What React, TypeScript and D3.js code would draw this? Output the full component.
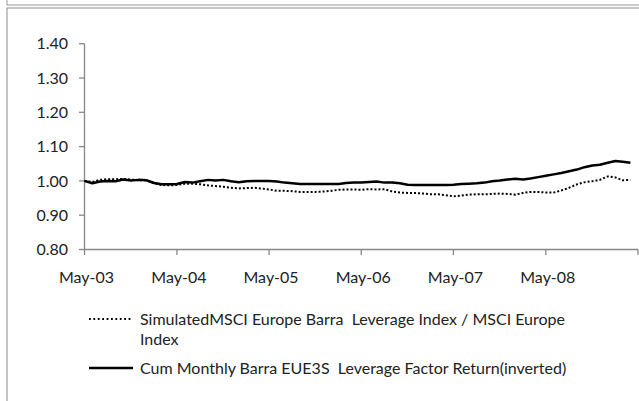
import * as d3 from "d3";

// monthly observations, May-03 .. Apr-09
const simulatedRatio = [
  1.000, 0.997, 1.003, 1.005, 1.005, 1.006, 1.004, 1.002, 1.002, 0.993, 0.988, 0.987,
  0.988, 0.992, 0.992, 0.990, 0.987, 0.985, 0.983, 0.980, 0.978, 0.979, 0.980, 0.978,
  0.975, 0.971, 0.971, 0.970, 0.968, 0.968, 0.968, 0.969, 0.971, 0.974, 0.975, 0.975,
  0.974, 0.976, 0.975, 0.976, 0.969, 0.966, 0.965, 0.965, 0.963, 0.961, 0.961, 0.958,
  0.955, 0.957, 0.960, 0.961, 0.961, 0.962, 0.963, 0.962, 0.960, 0.965, 0.968, 0.968,
  0.966, 0.966, 0.972, 0.980, 0.990, 0.996, 0.999, 1.003, 1.013, 1.010, 1.002, 1.003,
];
const cumFactorReturn = [
  1.000, 0.993, 0.998, 1.000, 0.999, 1.004, 1.001, 1.003, 1.002, 0.994, 0.990, 0.990,
  0.991, 0.997, 0.995, 0.999, 1.003, 1.001, 1.003, 0.999, 0.996, 0.999, 1.000, 1.000,
  1.000, 0.998, 0.995, 0.993, 0.991, 0.991, 0.991, 0.991, 0.991, 0.991, 0.994, 0.995,
  0.995, 0.997, 0.998, 0.995, 0.995, 0.993, 0.989, 0.988, 0.988, 0.988, 0.988, 0.988,
  0.989, 0.991, 0.992, 0.993, 0.995, 0.999, 1.001, 1.004, 1.006, 1.004, 1.007, 1.011,
  1.015, 1.019, 1.023, 1.028, 1.033, 1.040, 1.045, 1.047, 1.053, 1.058, 1.056, 1.053,
];
const months = d3.timeMonth.range(new Date(2003, 4, 1), new Date(2009, 4, 1));

const xTickDates = d3.timeYear.range(new Date(2003, 0, 1), new Date(2010, 0, 1)).map((d) => new Date(d.getFullYear(), 4, 1));
const xTickLabels = ["May-03", "May-04", "May-05", "May-06", "May-07", "May-08", ""];
const yTicks = [0.8, 0.9, 1.0, 1.1, 1.2, 1.3, 1.4];

const legendLabels = [
  ["SimulatedMSCI Europe Barra  Leverage Index / MSCI Europe", "Index"],
  ["Cum Monthly Barra EUE3S  Leverage Factor Return(inverted)"],
];

const W = 639;
const H = 401;
const FONT = "Lato, 'Open Sans', sans-serif";
const FS = 16;
const AXIS = "#878787";

export default function App() {
  const x = d3.scaleTime().domain([new Date(2003, 4, 1), new Date(2009, 4, 1)]).range([84.5, 638]);
  const y = d3.scaleLinear().domain([0.8, 1.4]).range([249.5, 43.7]);

  const line = d3
    .line<number>()
    .x((_, i) => x(months[i]))
    .y((d) => y(d));

  return (
    <svg width={W} height={H} style={{ position: "absolute", left: 0, top: 0, background: "#fff" }} fontFamily={FONT}>
      {/* frames */}
      <rect x={7} y={-10} width={700} height={15} fill="none" stroke="#9a9a9a" strokeWidth={1} />
      <rect x={7} y={8} width={700} height={500} fill="none" stroke="#8a8a8a" strokeWidth={1} />

      {/* y axis */}
      <line x1={84.5} x2={84.5} y1={y(1.4)} y2={y(0.8)} stroke={AXIS} strokeWidth={1.3} />
      {yTicks.map((t) => (
        <g key={t}>
          <line x1={79} x2={84.5} y1={y(t)} y2={y(t)} stroke={AXIS} strokeWidth={1.3} />
          <text x={68} y={y(t)} dy="0.35em" textAnchor="end" fontSize={FS} fill="#222">
            {t.toFixed(2)}
          </text>
        </g>
      ))}

      {/* x axis */}
      <line x1={84.5} x2={638} y1={249.5} y2={249.5} stroke={AXIS} strokeWidth={1.3} />
      {xTickDates.map((d, i) => (
        <g key={i}>
          <line x1={x(d)} x2={x(d)} y1={249.5} y2={255} stroke={AXIS} strokeWidth={1.3} />
          <text x={x(d) + 2} y={277} dy="0.35em" textAnchor="middle" fontSize={FS} fill="#222">
            {xTickLabels[i]}
          </text>
        </g>
      ))}

      {/* series */}
      <path d={line(simulatedRatio) ?? ""} fill="none" stroke="#000" strokeWidth={2} strokeDasharray="2 2" />
      <path d={line(cumFactorReturn) ?? ""} fill="none" stroke="#000" strokeWidth={2.5} strokeLinejoin="round" />

      {/* legend */}
      <line x1={89} x2={133} y1={319} y2={319} stroke="#000" strokeWidth={1.8} strokeDasharray="1.8 2.6" />
      {legendLabels[0].map((s, i) => (
        <text key={i} x={140} y={319 + i * 20} dy="0.35em" fontSize={FS} fill="#222" style={{ whiteSpace: "pre" }}>
          {s}
        </text>
      ))}
      <line x1={89} x2={133} y1={368} y2={368} stroke="#000" strokeWidth={2.5} />
      <text x={140} y={368} dy="0.35em" fontSize={FS} fill="#222" style={{ whiteSpace: "pre" }}>
        {legendLabels[1][0]}
      </text>
    </svg>
  );
}
